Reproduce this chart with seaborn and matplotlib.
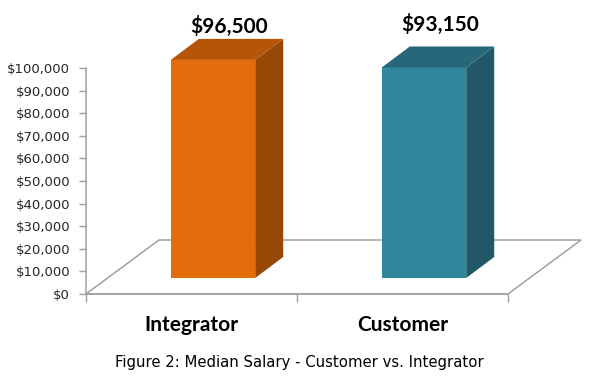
import matplotlib
matplotlib.use('Agg')
import matplotlib.pyplot as plt
from matplotlib.patches import Polygon
from matplotlib.ticker import FuncFormatter
import seaborn as sns
import pandas as pd

groups = ['Integrator', 'Customer']
salary = [96500, 93150]
value_labels = ['$96,500', '$93,150']
front_colors = ['#E46C0A', '#31859C']
top_colors = ['#B45508', '#26687A']
side_colors = ['#974806', '#215867']
yticks = list(range(0, 100001, 10000))
caption = 'Figure 2: Median Salary - Customer vs. Integrator'

# label lift above the bar top, in pixels (Excel placed them unevenly)
label_lift = [43, 53]

sns.set_style('white')
plt.rcParams['font.family'] = ['DejaVu Sans']

fig = plt.figure(figsize=(5.95, 3.81), dpi=100)
ax = fig.add_axes([86 / 595, 87 / 381, 422 / 595, 226 / 381])

df = pd.DataFrame({'group': groups, 'salary': salary})
sns.barplot(data=df, x='group', y='salary', hue='group', palette=front_colors,
            saturation=1, width=0.4, linewidth=0, legend=False, ax=ax, zorder=3)
ax.set_xlim(-0.5, 1.5)
ax.set_ylim(0, 100000)

# pixel -> data size helpers (fake 3d depth)
sx = 422 / 2.0
sy = 226 / 100000.0
def px(dx, dy):
    return dx / sx, dy / sy

shift = px(21.5, 16)
depth = px(28, 21)
floor = px(73, 54)

# floor parallelogram
ax.add_patch(Polygon([(-0.5, 0), (1.5, 0), (1.5 + floor[0], floor[1]), (-0.5 + floor[0], floor[1])],
                     closed=True, fill=False, edgecolor='#A0A0A0', lw=1.1, clip_on=False, zorder=1))

bold = dict(family=['Lato', 'DejaVu Sans'], fontsize=15, fontweight='bold', color='black')

for i, p in enumerate(ax.patches[:len(groups)]):
    x0, w, h = p.get_x(), p.get_width(), p.get_height()
    x0 += shift[0]
    p.set_x(x0)
    p.set_y(shift[1])
    p.set_clip_on(False)
    x1 = x0 + w
    b = shift[1]
    t = shift[1] + h
    side = Polygon([(x1, b), (x1 + depth[0], b + depth[1]), (x1 + depth[0], t + depth[1]), (x1, t)],
                   closed=True, facecolor=side_colors[i], lw=0, clip_on=False, zorder=3)
    top = Polygon([(x0, t), (x1, t), (x1 + depth[0], t + depth[1]), (x0 + depth[0], t + depth[1])],
                  closed=True, facecolor=top_colors[i], lw=0, clip_on=False, zorder=3)
    ax.add_patch(side)
    ax.add_patch(top)
    ax.annotate(value_labels[i], (i, h), xytext=(38, label_lift[i]), textcoords='offset pixels',
                ha='center', va='baseline', annotation_clip=False, **bold)
    ax.annotate(groups[i], (i, 0), xytext=(0, -37), textcoords='offset pixels',
                ha='center', va='baseline', annotation_clip=False, **bold)

ax.set_yticks(yticks)
ax.yaxis.set_major_formatter(FuncFormatter(lambda v, pos: '${:,.0f}'.format(v)))
ax.set_xticks([-0.5, 0.5, 1.5])
ax.set_xticklabels([])
ax.set_xlabel('')
ax.set_ylabel('')
ax.tick_params(axis='y', direction='out', length=5, width=1, color='#A0A0A0', pad=6.5,
               labelsize=9.5, labelcolor='#262626', left=True)
ax.tick_params(axis='x', direction='out', length=6, width=1, color='#A0A0A0', bottom=True)
for s in ['top', 'right']:
    ax.spines[s].set_visible(False)
for s in ['left', 'bottom']:
    ax.spines[s].set_color('#A0A0A0')
    ax.spines[s].set_linewidth(1.1)

fig.text(299 / 595, 18 / 381, caption, ha='center', va='center', fontsize=10.7, color='black')

fig.savefig('out.png', dpi=100)
